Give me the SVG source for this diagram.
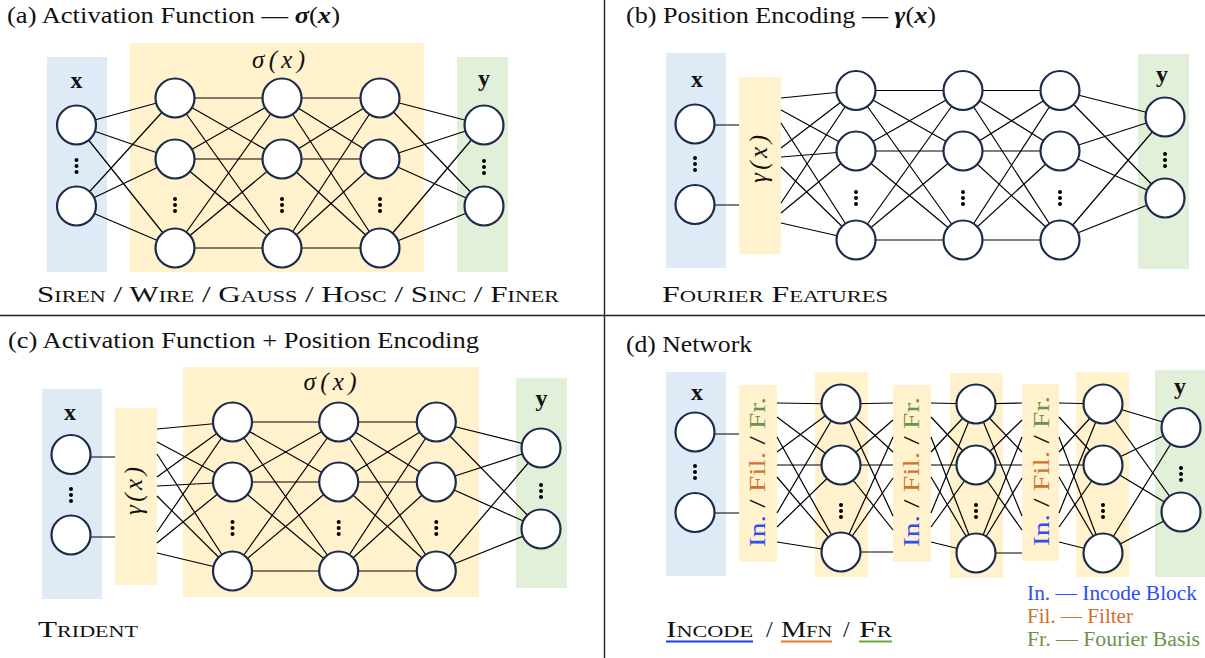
<svg xmlns="http://www.w3.org/2000/svg" width="1205" height="658" viewBox="0 0 1205 658" font-family="'Liberation Serif', 'DejaVu Serif', 'Noto Serif', serif">
<style>
text{font-family:"Liberation Serif","DejaVu Serif","Noto Serif",serif;fill:#111}
.t{font-size:24px}
.lbl{font-size:24px;font-weight:bold}
.m{font-size:25px;font-style:italic}
.sc{font-size:24px;font-variant:small-caps}
.lg{font-size:20px}
.bt{font-size:24px}
.n{fill:#fff;stroke:#1c2b4b;stroke-width:2.2}
.c line{stroke:#000;stroke-width:1.2}
.bl{fill:#deebf7}
.ye{fill:#fff2cc}
.gr{fill:#e2f0d9}
.dv{stroke:#222;stroke-width:1.4}
.blue{fill:#2f4ef5}
.ora{fill:#d2702f}
.grn{fill:#6b944a}
</style>
<defs>
<g id="vd"><circle cx="0" cy="-6" r="2"/><circle cx="0" cy="0" r="2"/><circle cx="0" cy="6" r="2"/></g>
</defs>
<line class="dv" x1="604.5" y1="0" x2="604.5" y2="658"/>
<line class="dv" x1="0" y1="315.5" x2="1205" y2="315.5"/>

<!-- Panel a -->
<g id="panel-a">
<text class="t" x="7" y="23" textLength="333" lengthAdjust="spacingAndGlyphs">(a) Activation Function — <tspan font-style="italic" font-weight="bold">σ</tspan>(<tspan font-style="italic" font-weight="bold">x</tspan>)</text>
<rect class="bl" x="47" y="57" width="60" height="215"/>
<rect class="ye" x="130" y="43" width="294" height="229"/>
<rect class="gr" x="457" y="57" width="51" height="215"/>
<text class="m" x="278.6" y="68" text-anchor="middle" textLength="53" lengthAdjust="spacing">σ(x)</text>
<text class="lbl" x="76.5" y="88" text-anchor="middle">x</text>
<text class="lbl" x="484" y="86" text-anchor="middle">y</text>
<g class="c" id="connectors-a">
<line x1="76.5" y1="125" x2="175" y2="98"/><line x1="76.5" y1="125" x2="175" y2="159"/><line x1="76.5" y1="125" x2="175" y2="248"/>
<line x1="76.5" y1="206" x2="175" y2="98"/><line x1="76.5" y1="206" x2="175" y2="159"/><line x1="76.5" y1="206" x2="175" y2="248"/>
<line x1="175" y1="98" x2="282" y2="98"/><line x1="175" y1="98" x2="282" y2="159"/><line x1="175" y1="98" x2="282" y2="248"/>
<line x1="175" y1="159" x2="282" y2="98"/><line x1="175" y1="159" x2="282" y2="159"/><line x1="175" y1="159" x2="282" y2="248"/>
<line x1="175" y1="248" x2="282" y2="98"/><line x1="175" y1="248" x2="282" y2="159"/><line x1="175" y1="248" x2="282" y2="248"/>
<line x1="282" y1="98" x2="380" y2="98"/><line x1="282" y1="98" x2="380" y2="159"/><line x1="282" y1="98" x2="380" y2="248"/>
<line x1="282" y1="159" x2="380" y2="98"/><line x1="282" y1="159" x2="380" y2="159"/><line x1="282" y1="159" x2="380" y2="248"/>
<line x1="282" y1="248" x2="380" y2="98"/><line x1="282" y1="248" x2="380" y2="159"/><line x1="282" y1="248" x2="380" y2="248"/>
<line x1="380" y1="98" x2="484" y2="125"/><line x1="380" y1="98" x2="484" y2="206"/>
<line x1="380" y1="159" x2="484" y2="125"/><line x1="380" y1="159" x2="484" y2="206"/>
<line x1="380" y1="248" x2="484" y2="125"/><line x1="380" y1="248" x2="484" y2="206"/>
</g>
<g id="a-in1"><circle class="n" cx="76.5" cy="125" r="19.5"/></g>
<g id="a-in2"><circle class="n" cx="76.5" cy="206" r="19.5"/></g>
<g id="a-h11"><circle class="n" cx="175" cy="98" r="19.5"/></g>
<g id="a-h12"><circle class="n" cx="175" cy="159" r="19.5"/></g>
<g id="a-h13"><circle class="n" cx="175" cy="248" r="19.5"/></g>
<g id="a-h21"><circle class="n" cx="282" cy="98" r="19.5"/></g>
<g id="a-h22"><circle class="n" cx="282" cy="159" r="19.5"/></g>
<g id="a-h23"><circle class="n" cx="282" cy="248" r="19.5"/></g>
<g id="a-h31"><circle class="n" cx="380" cy="98" r="19.5"/></g>
<g id="a-h32"><circle class="n" cx="380" cy="159" r="19.5"/></g>
<g id="a-h33"><circle class="n" cx="380" cy="248" r="19.5"/></g>
<g id="a-o1"><circle class="n" cx="484" cy="125" r="19.5"/></g>
<g id="a-o2"><circle class="n" cx="484" cy="206" r="19.5"/></g>
<use href="#vd" x="76.5" y="166"/><use href="#vd" x="175" y="205"/><use href="#vd" x="282" y="205"/><use href="#vd" x="380" y="205"/><use href="#vd" x="484" y="167"/>
<text class="sc" x="37" y="302" textLength="522" lengthAdjust="spacingAndGlyphs">Siren / Wire / Gauss / Hosc / Sinc / Finer</text>
</g>

<!-- Panel b -->
<g id="panel-b">
<text class="t" x="626" y="23" textLength="310" lengthAdjust="spacingAndGlyphs">(b) Position Encoding — <tspan font-style="italic" font-weight="bold">γ</tspan>(<tspan font-style="italic" font-weight="bold">x</tspan>)</text>
<rect class="bl" x="666" y="53" width="60" height="215"/>
<rect class="ye" x="739" y="77" width="42" height="177"/>
<rect class="gr" x="1138" y="54" width="51" height="215"/>
<text class="m" transform="translate(767,159) rotate(-90)" text-anchor="middle" textLength="48" lengthAdjust="spacing">γ(x)</text>
<text class="lbl" x="697" y="87" text-anchor="middle">x</text>
<text class="lbl" x="1162" y="82" text-anchor="middle">y</text>
<g class="c" id="connectors-b">
<line x1="700" y1="125" x2="739" y2="125"/><line x1="700" y1="205" x2="739" y2="205"/>
<line x1="781" y1="98" x2="856" y2="90.5"/><line x1="781" y1="110" x2="856" y2="151"/><line x1="781" y1="123" x2="856" y2="240"/>
<line x1="781" y1="148" x2="856" y2="90.5"/><line x1="781" y1="157" x2="856" y2="151"/><line x1="781" y1="167" x2="856" y2="240"/>
<line x1="781" y1="203" x2="856" y2="90.5"/><line x1="781" y1="213" x2="856" y2="151"/><line x1="781" y1="223" x2="856" y2="240"/>
<line x1="856" y1="90.5" x2="963" y2="90.5"/><line x1="856" y1="90.5" x2="963" y2="151"/><line x1="856" y1="90.5" x2="963" y2="240"/>
<line x1="856" y1="151" x2="963" y2="90.5"/><line x1="856" y1="151" x2="963" y2="151"/><line x1="856" y1="151" x2="963" y2="240"/>
<line x1="856" y1="240" x2="963" y2="90.5"/><line x1="856" y1="240" x2="963" y2="151"/><line x1="856" y1="240" x2="963" y2="240"/>
<line x1="963" y1="90.5" x2="1060" y2="90.5"/><line x1="963" y1="90.5" x2="1060" y2="151"/><line x1="963" y1="90.5" x2="1060" y2="240"/>
<line x1="963" y1="151" x2="1060" y2="90.5"/><line x1="963" y1="151" x2="1060" y2="151"/><line x1="963" y1="151" x2="1060" y2="240"/>
<line x1="963" y1="240" x2="1060" y2="90.5"/><line x1="963" y1="240" x2="1060" y2="151"/><line x1="963" y1="240" x2="1060" y2="240"/>
<line x1="1060" y1="90.5" x2="1165" y2="117"/><line x1="1060" y1="90.5" x2="1165" y2="198"/>
<line x1="1060" y1="151" x2="1165" y2="117"/><line x1="1060" y1="151" x2="1165" y2="198"/>
<line x1="1060" y1="240" x2="1165" y2="117"/><line x1="1060" y1="240" x2="1165" y2="198"/>
</g>
<g id="b-in1"><circle class="n" cx="695" cy="124" r="19.5"/></g>
<g id="b-in2"><circle class="n" cx="695" cy="204.5" r="19.5"/></g>
<g id="b-h11"><circle class="n" cx="856" cy="90.5" r="19.5"/></g>
<g id="b-h12"><circle class="n" cx="856" cy="151" r="19.5"/></g>
<g id="b-h13"><circle class="n" cx="856" cy="240" r="19.5"/></g>
<g id="b-h21"><circle class="n" cx="963" cy="90.5" r="19.5"/></g>
<g id="b-h22"><circle class="n" cx="963" cy="151" r="19.5"/></g>
<g id="b-h23"><circle class="n" cx="963" cy="240" r="19.5"/></g>
<g id="b-h31"><circle class="n" cx="1060" cy="90.5" r="19.5"/></g>
<g id="b-h32"><circle class="n" cx="1060" cy="151" r="19.5"/></g>
<g id="b-h33"><circle class="n" cx="1060" cy="240" r="19.5"/></g>
<g id="b-o1"><circle class="n" cx="1165" cy="117" r="19.5"/></g>
<g id="b-o2"><circle class="n" cx="1165" cy="198" r="19.5"/></g>
<use href="#vd" x="695" y="164"/><use href="#vd" x="856" y="198"/><use href="#vd" x="963" y="198"/><use href="#vd" x="1060" y="198"/><use href="#vd" x="1165" y="160"/>
<text class="sc" x="662" y="302" textLength="226" lengthAdjust="spacingAndGlyphs">Fourier Features</text>
</g>

<!-- Panel c -->
<g id="panel-c">
<text class="t" x="8" y="348" textLength="471" lengthAdjust="spacingAndGlyphs">(c) Activation Function + Position Encoding</text>
<rect class="bl" x="42" y="389" width="60" height="210"/>
<rect class="ye" x="115" y="408" width="42" height="177"/>
<rect class="ye" x="183" y="367" width="296" height="230"/>
<rect class="gr" x="516" y="378" width="51" height="210"/>
<text class="m" x="330" y="390" text-anchor="middle" textLength="53" lengthAdjust="spacing">σ(x)</text>
<text class="m" transform="translate(142,491) rotate(-90)" text-anchor="middle" textLength="48" lengthAdjust="spacing">γ(x)</text>
<text class="lbl" x="70" y="420" text-anchor="middle">x</text>
<text class="lbl" x="541.5" y="406" text-anchor="middle">y</text>
<g class="c" id="connectors-c">
<line x1="75" y1="457" x2="115" y2="457"/><line x1="75" y1="537" x2="115" y2="537"/>
<line x1="157" y1="429" x2="232.5" y2="422"/><line x1="157" y1="442" x2="232.5" y2="482"/><line x1="157" y1="454" x2="232.5" y2="571"/>
<line x1="157" y1="477" x2="232.5" y2="422"/><line x1="157" y1="486" x2="232.5" y2="482"/><line x1="157" y1="496" x2="232.5" y2="571"/>
<line x1="157" y1="532" x2="232.5" y2="422"/><line x1="157" y1="543" x2="232.5" y2="482"/><line x1="157" y1="553" x2="232.5" y2="571"/>
<line x1="232.5" y1="422" x2="338.7" y2="422"/><line x1="232.5" y1="422" x2="338.7" y2="482"/><line x1="232.5" y1="422" x2="338.7" y2="571"/>
<line x1="232.5" y1="482" x2="338.7" y2="422"/><line x1="232.5" y1="482" x2="338.7" y2="482"/><line x1="232.5" y1="482" x2="338.7" y2="571"/>
<line x1="232.5" y1="571" x2="338.7" y2="422"/><line x1="232.5" y1="571" x2="338.7" y2="482"/><line x1="232.5" y1="571" x2="338.7" y2="571"/>
<line x1="338.7" y1="422" x2="436.3" y2="422"/><line x1="338.7" y1="422" x2="436.3" y2="482"/><line x1="338.7" y1="422" x2="436.3" y2="571"/>
<line x1="338.7" y1="482" x2="436.3" y2="422"/><line x1="338.7" y1="482" x2="436.3" y2="482"/><line x1="338.7" y1="482" x2="436.3" y2="571"/>
<line x1="338.7" y1="571" x2="436.3" y2="422"/><line x1="338.7" y1="571" x2="436.3" y2="482"/><line x1="338.7" y1="571" x2="436.3" y2="571"/>
<line x1="436.3" y1="422" x2="541" y2="448"/><line x1="436.3" y1="422" x2="541" y2="529"/>
<line x1="436.3" y1="482" x2="541" y2="448"/><line x1="436.3" y1="482" x2="541" y2="529"/>
<line x1="436.3" y1="571" x2="541" y2="448"/><line x1="436.3" y1="571" x2="541" y2="529"/>
</g>
<g id="c-in1"><circle class="n" cx="71" cy="454.5" r="19.5"/></g>
<g id="c-in2"><circle class="n" cx="71" cy="535" r="19.5"/></g>
<g id="c-h11"><circle class="n" cx="232.5" cy="422" r="19.5"/></g>
<g id="c-h12"><circle class="n" cx="232.5" cy="482" r="19.5"/></g>
<g id="c-h13"><circle class="n" cx="232.5" cy="571" r="19.5"/></g>
<g id="c-h21"><circle class="n" cx="338.7" cy="422" r="19.5"/></g>
<g id="c-h22"><circle class="n" cx="338.7" cy="482" r="19.5"/></g>
<g id="c-h23"><circle class="n" cx="338.7" cy="571" r="19.5"/></g>
<g id="c-h31"><circle class="n" cx="436.3" cy="422" r="19.5"/></g>
<g id="c-h32"><circle class="n" cx="436.3" cy="482" r="19.5"/></g>
<g id="c-h33"><circle class="n" cx="436.3" cy="571" r="19.5"/></g>
<g id="c-o1"><circle class="n" cx="541" cy="448" r="19.5"/></g>
<g id="c-o2"><circle class="n" cx="541" cy="529" r="19.5"/></g>
<use href="#vd" x="71" y="495"/><use href="#vd" x="232.5" y="528"/><use href="#vd" x="338.7" y="528"/><use href="#vd" x="436.3" y="528"/><use href="#vd" x="541" y="491"/>
<text class="sc" x="38" y="637" textLength="100" lengthAdjust="spacingAndGlyphs">Trident</text>
</g>

<!-- Panel d -->
<g id="panel-d">
<text class="t" x="626" y="352" textLength="126" lengthAdjust="spacingAndGlyphs">(d) Network</text>
<rect class="bl" x="666" y="372" width="60" height="204"/>
<rect class="ye" x="739" y="385" width="38" height="177"/>
<rect class="ye" x="815" y="372" width="53" height="205"/>
<rect class="ye" x="893" y="385" width="38" height="177"/>
<rect class="ye" x="950" y="373" width="53" height="205"/>
<rect class="ye" x="1022" y="384" width="37" height="177"/>
<rect class="ye" x="1076" y="372" width="53" height="205"/>
<rect class="gr" x="1155" y="370" width="50" height="207"/>
<text class="lbl" x="697" y="400" text-anchor="middle">x</text>
<text class="lbl" x="1180" y="394" text-anchor="middle">y</text>
<g class="c" id="connectors-d">
<line x1="700" y1="434" x2="739" y2="434"/><line x1="700" y1="513" x2="739" y2="513"/>
<line x1="777" y1="403" x2="841" y2="404"/><line x1="777" y1="417" x2="841" y2="465"/><line x1="777" y1="437" x2="841" y2="552"/>
<line x1="777" y1="452" x2="841" y2="404"/><line x1="777" y1="465" x2="841" y2="465"/><line x1="777" y1="477" x2="841" y2="552"/>
<line x1="777" y1="513" x2="841" y2="404"/><line x1="777" y1="527" x2="841" y2="465"/><line x1="777" y1="542" x2="841" y2="552"/>
<line x1="841" y1="404" x2="893" y2="403"/><line x1="841" y1="404" x2="893" y2="452"/><line x1="841" y1="404" x2="893" y2="516"/>
<line x1="841" y1="465" x2="893" y2="420"/><line x1="841" y1="465" x2="893" y2="465"/><line x1="841" y1="465" x2="893" y2="530"/>
<line x1="841" y1="552" x2="893" y2="437"/><line x1="841" y1="552" x2="893" y2="478"/><line x1="841" y1="552" x2="893" y2="552"/>
<line x1="931" y1="403" x2="976" y2="404"/><line x1="931" y1="417" x2="976" y2="465"/><line x1="931" y1="437" x2="976" y2="553"/>
<line x1="931" y1="452" x2="976" y2="404"/><line x1="931" y1="465" x2="976" y2="465"/><line x1="931" y1="477" x2="976" y2="553"/>
<line x1="931" y1="513" x2="976" y2="404"/><line x1="931" y1="527" x2="976" y2="465"/><line x1="931" y1="542" x2="976" y2="553"/>
<line x1="976" y1="404" x2="1022" y2="403"/><line x1="976" y1="404" x2="1022" y2="452"/><line x1="976" y1="404" x2="1022" y2="516"/>
<line x1="976" y1="465" x2="1022" y2="420"/><line x1="976" y1="465" x2="1022" y2="465"/><line x1="976" y1="465" x2="1022" y2="530"/>
<line x1="976" y1="553" x2="1022" y2="437"/><line x1="976" y1="553" x2="1022" y2="478"/><line x1="976" y1="553" x2="1022" y2="553"/>
<line x1="1059" y1="403" x2="1103" y2="404"/><line x1="1059" y1="417" x2="1103" y2="465"/><line x1="1059" y1="437" x2="1103" y2="553"/>
<line x1="1059" y1="452" x2="1103" y2="404"/><line x1="1059" y1="465" x2="1103" y2="465"/><line x1="1059" y1="477" x2="1103" y2="553"/>
<line x1="1059" y1="513" x2="1103" y2="404"/><line x1="1059" y1="527" x2="1103" y2="465"/><line x1="1059" y1="542" x2="1103" y2="553"/>
<line x1="1103" y1="404" x2="1181" y2="427.5"/><line x1="1103" y1="404" x2="1181" y2="512"/>
<line x1="1103" y1="465" x2="1181" y2="427.5"/><line x1="1103" y1="465" x2="1181" y2="512"/>
<line x1="1103" y1="553" x2="1181" y2="427.5"/><line x1="1103" y1="553" x2="1181" y2="512"/>
</g>
<text class="bt" transform="translate(765,472) rotate(-90)" text-anchor="middle" textLength="150" lengthAdjust="spacingAndGlyphs"><tspan class="blue">In.</tspan> / <tspan class="ora">Fil.</tspan> / <tspan class="grn">Fr.</tspan></text>
<text class="bt" transform="translate(919,472) rotate(-90)" text-anchor="middle" textLength="150" lengthAdjust="spacingAndGlyphs"><tspan class="blue">In.</tspan> / <tspan class="ora">Fil.</tspan> / <tspan class="grn">Fr.</tspan></text>
<text class="bt" transform="translate(1049,471) rotate(-90)" text-anchor="middle" textLength="150" lengthAdjust="spacingAndGlyphs"><tspan class="blue">In.</tspan> / <tspan class="ora">Fil.</tspan> / <tspan class="grn">Fr.</tspan></text>
<g id="d-in1"><circle class="n" cx="695" cy="432" r="19.5"/></g>
<g id="d-in2"><circle class="n" cx="695" cy="512.5" r="19.5"/></g>
<g id="d-h11"><circle class="n" cx="841" cy="404" r="19.5"/></g>
<g id="d-h12"><circle class="n" cx="841" cy="465" r="19.5"/></g>
<g id="d-h13"><circle class="n" cx="841" cy="552" r="19.5"/></g>
<g id="d-h21"><circle class="n" cx="976" cy="404" r="19.5"/></g>
<g id="d-h22"><circle class="n" cx="976" cy="465" r="19.5"/></g>
<g id="d-h23"><circle class="n" cx="976" cy="553" r="19.5"/></g>
<g id="d-h31"><circle class="n" cx="1103" cy="404" r="19.5"/></g>
<g id="d-h32"><circle class="n" cx="1103" cy="465" r="19.5"/></g>
<g id="d-h33"><circle class="n" cx="1103" cy="553" r="19.5"/></g>
<g id="d-o1"><circle class="n" cx="1181" cy="427.5" r="19.5"/></g>
<g id="d-o2"><circle class="n" cx="1181" cy="512" r="19.5"/></g>
<use href="#vd" x="695" y="472"/><use href="#vd" x="841" y="511"/><use href="#vd" x="976" y="511"/><use href="#vd" x="1103" y="511"/><use href="#vd" x="1181" y="474"/>
<text class="sc" x="666" y="637" textLength="87" lengthAdjust="spacingAndGlyphs">Incode</text>
<text class="sc" x="766" y="637">/</text>
<text class="sc" x="781" y="637" textLength="51" lengthAdjust="spacingAndGlyphs">Mfn</text>
<text class="sc" x="843" y="637">/</text>
<text class="sc" x="859" y="637" textLength="33" lengthAdjust="spacingAndGlyphs">Fr</text>
<line x1="666" y1="641.5" x2="753" y2="641.5" stroke="#1a3cf0" stroke-width="2"/>
<line x1="781" y1="641.5" x2="832" y2="641.5" stroke="#e87b35" stroke-width="2"/>
<line x1="859" y1="641.5" x2="892" y2="641.5" stroke="#6aaa44" stroke-width="2"/>
<g id="legend">
<text class="lg blue" x="1027" y="600" textLength="170" lengthAdjust="spacingAndGlyphs">In. — Incode Block</text>
<text class="lg ora" x="1027" y="623" textLength="106" lengthAdjust="spacingAndGlyphs">Fil. — Filter</text>
<text class="lg grn" x="1027" y="646" textLength="173" lengthAdjust="spacingAndGlyphs">Fr. — Fourier Basis</text>
</g>
</g>
</svg>
